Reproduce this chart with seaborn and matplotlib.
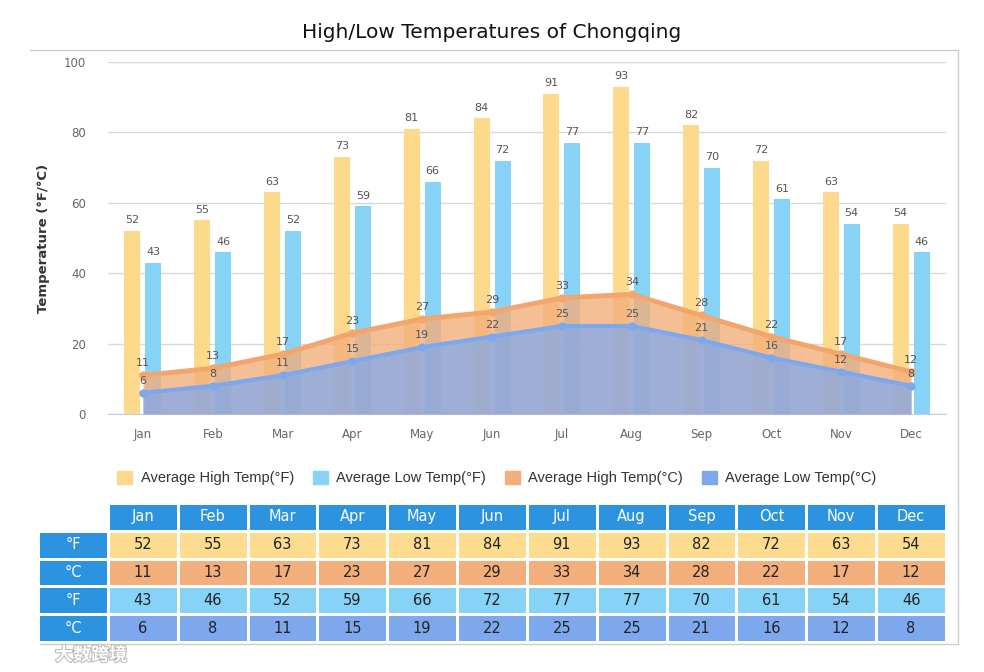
import numpy as np
import pandas as pd
import matplotlib
matplotlib.use("Agg")
import matplotlib.pyplot as plt
import seaborn as sns
from matplotlib.colors import ListedColormap
from matplotlib.patches import Patch
from matplotlib.lines import Line2D
import matplotlib.patheffects as pe

months = ["Jan", "Feb", "Mar", "Apr", "May", "Jun",
          "Jul", "Aug", "Sep", "Oct", "Nov", "Dec"]
high_f = [52, 55, 63, 73, 81, 84, 91, 93, 82, 72, 63, 54]
low_f = [43, 46, 52, 59, 66, 72, 77, 77, 70, 61, 54, 46]
high_c = [11, 13, 17, 23, 27, 29, 33, 34, 28, 22, 17, 12]
low_c = [6, 8, 11, 15, 19, 22, 25, 25, 21, 16, 12, 8]
series_names = ["Average High Temp(°F)", "Average Low Temp(°F)",
                "Average High Temp(°C)", "Average Low Temp(°C)"]
row_labels = ["°F", "°C", "°F", "°C"]

c_yellow = "#FDDA8B"
c_lblue = "#86D3F7"
c_orange = "#F2AF7B"
c_blue = "#7EA8EE"
c_head = "#2B93E0"

sns.set_style("white")
plt.rcParams["font.family"] = ["DejaVu Sans"]

fig = plt.figure(figsize=(9.84, 6.72), dpi=100)

# main chart
ax = fig.add_axes([108/984, 1-414/672, 838/984, 352/672])
bars = pd.DataFrame({
    "month": months * 2,
    "value": high_f + low_f,
    "series": [series_names[0]] * 12 + [series_names[1]] * 12,
})
sns.barplot(data=bars, x="month", y="value", hue="series",
            palette=[c_yellow, c_lblue], saturation=1, width=0.6, gap=0.24,
            linewidth=0, legend=False, ax=ax, zorder=2)
for cont in ax.containers:
    ax.bar_label(cont, padding=4, fontsize=8, color="#555555")

pos = np.arange(12)
ax.fill_between(pos, high_c, color=c_orange, alpha=0.8, lw=0, zorder=3)
sns.lineplot(x=pos, y=high_c, color="#F2A56C", lw=3.5, marker="o",
             markersize=6, markeredgewidth=0, ax=ax, zorder=4)
ax.fill_between(pos, low_c, color=c_blue, alpha=0.72, lw=0, zorder=5)
sns.lineplot(x=pos, y=low_c, color=c_blue, lw=3, marker="o",
             markersize=6, markeredgewidth=0, ax=ax, zorder=6)
for i in range(12):
    ax.annotate(str(high_c[i]), (pos[i], high_c[i]), xytext=(0, 5),
                textcoords="offset points", ha="center", va="bottom",
                fontsize=8, color="#555555", zorder=7)
    ax.annotate(str(low_c[i]), (pos[i], low_c[i]), xytext=(0, 5),
                textcoords="offset points", ha="center", va="bottom",
                fontsize=8, color="#555555", zorder=7)

ax.set_xlim(-0.5, 11.5)
ax.set_ylim(0, 100)
ax.set_yticks(range(0, 101, 20))
ax.yaxis.grid(True, color="#d8d8d8", lw=1)
ax.set_axisbelow(True)
for s in ["left", "right", "top"]:
    ax.spines[s].set_visible(False)
ax.spines["bottom"].set_color("#c0d0e0")
ax.set_xticks(np.arange(-0.5, 12, 1), minor=True)
ax.tick_params(axis="x", which="minor", length=7, color="#c0d0e0", width=1)
ax.tick_params(axis="x", which="major", length=0, pad=10, labelsize=8.5,
               labelcolor="#666666")
ax.tick_params(axis="y", length=0, pad=16, labelsize=8.5, labelcolor="#666666")
ax.set_xlabel("")
ax.set_ylabel("Temperature (°F/°C)", fontsize=9.5, fontweight="bold",
              color="#333333")
ax.yaxis.set_label_coords(-0.069, 0.5)

fig.text(0.5, 1-32/672, "High/Low Temperatures of Chongqing",
         ha="center", va="center", fontsize=14.5, color="#111111")

# legend
handles = [Patch(color=c) for c in [c_yellow, c_lblue, c_orange, c_blue]]
fig.legend(handles, series_names, loc="center", ncol=4,
           bbox_to_anchor=(497/984, 1-478/672), frameon=False,
           prop={"family": ["Liberation Sans", "DejaVu Sans"], "size": 10.5},
           handlelength=1.0, handleheight=1.0, handletextpad=0.6,
           columnspacing=1.3, labelcolor="#333333")

# table
tax = fig.add_axes([38/984, 1-642/672, 908/984, 139/672])
codes = np.zeros((5, 13))
codes[0, 1:] = 1
codes[1:, 0] = 1
for r in range(4):
    codes[r+1, 1:] = r + 2
cmap = ListedColormap(["white", c_head, "#FEDC8F", c_orange, c_lblue, c_blue])
sns.heatmap(codes, cmap=cmap, vmin=-0.5, vmax=5.5, cbar=False,
            linewidths=2, linecolor="white", ax=tax)
tax.set_xticks([])
tax.set_yticks([])
for j, m in enumerate(months):
    tax.text(j + 1.5, 0.5, m, ha="center", va="center", color="white",
             fontsize=10.5)
table_rows = [high_f, high_c, low_f, low_c]
for r in range(4):
    tax.text(0.5, r + 1.5, row_labels[r], ha="center", va="center",
             color="white", fontsize=10.5)
    for j in range(12):
        tax.text(j + 1.5, r + 1.5, str(table_rows[r][j]), ha="center",
                 va="center", color="#222222", fontsize=10.5)

# frame around the chart
fc = "#cccccc"
fig.add_artist(Line2D([30/984, 958/984], [1-50/672, 1-50/672], color=fc, lw=1))
fig.add_artist(Line2D([958/984, 958/984], [1-50/672, 1-644/672], color=fc, lw=1))
fig.add_artist(Line2D([40/984, 958/984], [1-644/672, 1-644/672], color=fc, lw=1))

wm = fig.text(55/984, 1-655/672, "大数跨境", ha="left", va="center",
              fontsize=13, fontweight="bold", color="white",
              family=["Noto Sans CJK SC", "DejaVu Sans"])
wm.set_path_effects([pe.withStroke(linewidth=1.5, foreground="#bbbbbb")])

fig.savefig("out.png", dpi=100)
